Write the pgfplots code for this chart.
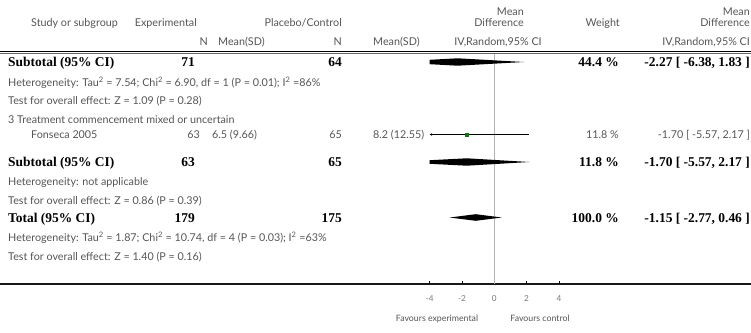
\documentclass[border=0pt]{standalone}
\usepackage{fontspec}
\setmainfont{Lato}
\newfontfamily\bserif{Liberation Serif}
\usepackage{pgfplots}
\pgfplotsset{compat=1.18}
\usetikzlibrary{arrows.meta}

\definecolor{txtgray}{HTML}{555555}
\definecolor{tickgray}{HTML}{777777}
\definecolor{sqgreen}{HTML}{0B7A0B}

\newcommand\gtx{\color{txtgray}\fontsize{10.8}{12}\selectfont}
\newcommand\btx{\color{black}\bserif\bfseries\fontsize{13.5}{15}\selectfont}
% text helpers: left / right aligned at (x,y) in pixel-like bp units, y downwards
\newcommand\TL[3]{\node[anchor=base west,inner sep=0pt] at (#1bp,-#2bp) {#3};}
\newcommand\TR[3]{\node[anchor=base east,inner sep=0pt] at (#1bp,-#2bp) {#3};}

\begin{document}
\begin{tikzpicture}
\useasboundingbox (0,0) rectangle (751bp,-333bp);
\begin{axis}[
  at={(0,0)}, anchor=north west,
  scale only axis, width=751bp, height=284bp,
  xmin=-30.607, xmax=15.895, ymin=-284, ymax=0,
  axis x line=bottom, axis y line=none,
  axis line style={-, line width=1.1bp, black!90},
  xtick={-4,-2,0,2,4}, tick align=inside, major tick length=3bp,
  tick style={black, line width=0.6bp},
  xticklabel style={font=\fontsize{8.2}{9}\selectfont, text=tickgray, yshift=-8bp},
  /pgf/number format/assume math mode=true,
  clip=false,
]
% line of no effect
\addplot[gray!60, line width=0.4bp] coordinates {(0,-53) (0,-284)};
% Subtotal: treatment timing group 2 (clipped at -4)
\addplot[fill=black, draw=none] coordinates {(-4,-59.8) (-2.27,-58.3) (1.83,-62) (-2.27,-65.7) (-4,-64.2)} -- cycle;
% Fonseca 2005
\addplot[black, line width=0.5bp, {Stealth[length=2.5bp,width=2.6bp]}-] coordinates {(-4,-134.5) (2.17,-134.5)};
\addplot[only marks, mark=square*, mark size=1.8bp, color=sqgreen] coordinates {(-1.70,-134.5)};
% Subtotal: group 3 (clipped at -4)
\addplot[fill=black, draw=none] coordinates {(-4,-160.2) (-1.70,-158.3) (2.17,-162) (-1.70,-165.7) (-4,-163.8)} -- cycle;
% Total
\addplot[fill=black, draw=none] coordinates {(-2.77,-217.5) (-1.15,-214.2) (0.46,-217.5) (-1.15,-220.8)} -- cycle;
\end{axis}

% header rules
\draw[black, line width=0.9bp] (0,-51.5bp) -- (751bp,-51.5bp);
\draw[black!60, line width=0.5bp] (0,-53.5bp) -- (751bp,-53.5bp);

% header
\TR{524}{15.2}{\gtx Mean}
\TR{750}{15.2}{\gtx Mean}
\TL{31}{26.7}{\gtx Study or subgroup}
\TR{197}{26.7}{\gtx Experimental}
\TR{342}{26.7}{\gtx Placebo/Control}
\TR{524}{26.7}{\gtx Difference}
\TR{620}{26.7}{\gtx Weight}
\TR{750}{26.7}{\gtx Difference}
\TR{208}{45.7}{\gtx N}
\TL{218}{45.7}{\gtx Mean(SD)}
\TR{342}{45.7}{\gtx N}
\TL{373}{45.7}{\gtx Mean(SD)}
\node[anchor=base,inner sep=0pt] at (498bp,-45.7bp) {\gtx IV,Random,95\% CI};
\TR{750}{45.7}{\gtx IV,Random,95\% CI}

% subgroup 2 summary
\TL{8}{66.5}{\btx Subtotal (95\% CI)}
\TR{195}{66.5}{\btx 71}
\TR{342}{66.5}{\btx 64}
\TR{619}{66.5}{\btx 44.4 \%}
\TR{750}{66.5}{\btx -2.27 [ -6.38, 1.83 ]}
\TL{8}{86.2}{\gtx Heterogeneity: Tau\textsuperscript{2} = 7.54; Chi\textsuperscript{2} = 6.90, df = 1 (P = 0.01); I\textsuperscript{2} =86\%}
\TL{8}{104.7}{\gtx Test for overall effect: Z = 1.09 (P = 0.28)}

% subgroup 3
\TL{8}{123.2}{\gtx 3 Treatment commencement mixed or uncertain}
\TL{31}{138.4}{\gtx Fonseca 2005}
\TR{200}{138.4}{\gtx 63}
\TL{212}{138.4}{\gtx 6.5 (9.66)}
\TR{342}{138.4}{\gtx 65}
\TL{373}{138.4}{\gtx 8.2 (12.55)}
\TR{619}{138.4}{\gtx 11.8 \%}
\TR{750}{138.4}{\gtx -1.70 [ -5.57, 2.17 ]}
\TL{8}{166.5}{\btx Subtotal (95\% CI)}
\TR{195}{166.5}{\btx 63}
\TR{342}{166.5}{\btx 65}
\TR{619}{166.5}{\btx 11.8 \%}
\TR{750}{166.5}{\btx -1.70 [ -5.57, 2.17 ]}
\TL{8}{185.7}{\gtx Heterogeneity: not applicable}
\TL{8}{204.2}{\gtx Test for overall effect: Z = 0.86 (P = 0.39)}

% overall
\TL{8}{222.5}{\btx Total (95\% CI)}
\TR{195}{222.5}{\btx 179}
\TR{342}{222.5}{\btx 175}
\TR{619}{222.5}{\btx 100.0 \%}
\TR{750}{222.5}{\btx -1.15 [ -2.77, 0.46 ]}
\TL{8}{241.7}{\gtx Heterogeneity: Tau\textsuperscript{2} = 1.87; Chi\textsuperscript{2} = 10.74, df = 4 (P = 0.03); I\textsuperscript{2} =63\%}
\TL{8}{260.2}{\gtx Test for overall effect: Z = 1.40 (P = 0.16)}

% favours labels
\node[anchor=base,inner sep=0pt] at (437bp,-321bp) {\color{txtgray}\fontsize{8.8}{10}\selectfont Favours experimental};
\node[anchor=base,inner sep=0pt] at (540bp,-321bp) {\color{txtgray}\fontsize{8.8}{10}\selectfont Favours control};
\end{tikzpicture}
\end{document}
